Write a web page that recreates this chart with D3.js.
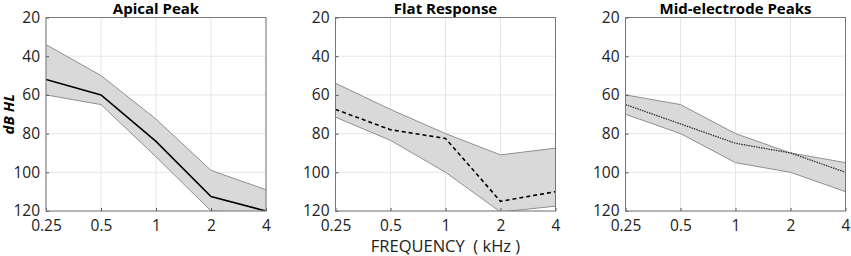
<!DOCTYPE html>
<html>
<head>
<meta charset="utf-8">
<script src="https://cdn.jsdelivr.net/npm/d3@7"></script>
<style>
  body { margin: 0; background: #fff; }
  svg text { font-family: "Open Sans", Arial, sans-serif; }
</style>
</head>
<body>
<svg id="chart"></svg>
<script>
// frequencies (kHz) and tick labels
const freqs = [0.25, 0.5, 1, 2, 4];
const freqLabels = ["0.25", "0.5", "1", "2", "4"];
const dbTicks = [20, 40, 60, 80, 100, 120];

const titles = ["Apical Peak", "Flat Response", "Mid-electrode Peaks"];

// median threshold lines (dB HL)
const apicalMid = [52, 60, 84, 112.5, 120];
const flatMid = [67.5, 78, 82.5, 115, 110];
const midElMid = [65, 75, 85, 90, 100];

// band upper edge (smaller dB)
const apicalHi = [34, 50, 72.5, 99, 109];
const flatHi = [54, 67.5, 80, 91, 87.5];
const midElHi = [60, 65, 80, 90, 95];

// band lower edge (larger dB)
const apicalLo = [60, 65, 92, 120, 121];
const flatLo = [71.5, 83.5, 100, 120.5, 117.5];
const midElLo = [70, 80, 95, 100, 110];

const lineStyles = [
    {dash: null, width: 1.6, color: "#000"},
    {dash: "4,3", width: 1.6, color: "#000"},
    {dash: "1.5,1", width: 1.3, color: "#333"}
];

const panels = [
    {mid: apicalMid, hi: apicalHi, lo: apicalLo, left: 46},
    {mid: flatMid, hi: flatHi, lo: flatLo, left: 335.5},
    {mid: midElMid, hi: midElHi, lo: midElLo, left: 625.5}
];

const width = 851, height = 256;
const plotW = 220, plotTop = 17.5, plotH = 193.5;

const svg = d3.select("#chart").attr("width", width).attr("height", height);

const y = d3.scaleLinear().domain([20, 120]).range([plotTop, plotTop + plotH]);

panels.forEach(function (p, i) {
    const x = d3.scaleLog().base(2).domain([0.25, 4]).range([0, plotW]);
    const g = svg.append("g").attr("transform", `translate(${p.left},0)`);

    const clipId = "clip" + i;
    g.append("clipPath").attr("id", clipId)
        .append("rect").attr("x", 0).attr("y", plotTop).attr("width", plotW).attr("height", plotH);

    // grid
    g.selectAll(".gx").data(freqs).enter().append("line")
        .attr("x1", d => x(d)).attr("x2", d => x(d))
        .attr("y1", plotTop).attr("y2", plotTop + plotH)
        .attr("stroke", "#e6e6e6").attr("stroke-width", 1);
    g.selectAll(".gy").data(dbTicks).enter().append("line")
        .attr("x1", 0).attr("x2", plotW)
        .attr("y1", d => y(d)).attr("y2", d => y(d))
        .attr("stroke", "#e6e6e6").attr("stroke-width", 1);

    const rows = freqs.map((f, k) => ({f: f, mid: p.mid[k], hi: p.hi[k], lo: p.lo[k]}));

    const area = d3.area().x(d => x(d.f)).y0(d => y(d.lo)).y1(d => y(d.hi));
    const body = g.append("g").attr("clip-path", `url(#${clipId})`);
    body.append("path").datum(rows)
        .attr("d", area)
        .attr("fill", "#d9d9d9")
        .attr("stroke", "none");
    body.append("path").datum(rows)
        .attr("d", d3.line().x(d => x(d.f)).y(d => y(d.hi)))
        .attr("fill", "none").attr("stroke", "#8f8f8f").attr("stroke-width", 1);
    body.append("path").datum(rows)
        .attr("d", d3.line().x(d => x(d.f)).y(d => y(d.lo)))
        .attr("fill", "none").attr("stroke", "#8f8f8f").attr("stroke-width", 1);

    const st = lineStyles[i];
    body.append("path").datum(rows)
        .attr("d", d3.line().x(d => x(d.f)).y(d => y(d.mid)))
        .attr("fill", "none")
        .attr("stroke", st.color)
        .attr("stroke-width", st.width)
        .attr("stroke-dasharray", st.dash);

    // axes
    const axX = d3.axisBottom(x).tickValues(freqs).tickFormat((d, k) => freqLabels[k])
        .tickSizeInner(-3).tickSizeOuter(0).tickPadding(9);
    const gx = g.append("g").attr("transform", `translate(0,${plotTop + plotH})`).call(axX);
    const axY = d3.axisLeft(y).tickValues(dbTicks).tickSizeInner(-3).tickSizeOuter(0).tickPadding(6);
    const gy = g.append("g").call(axY);
    [gx, gy].forEach(a => {
        a.select(".domain").remove();
        a.selectAll("line").attr("stroke", "#555");
        a.selectAll("text").attr("fill", "#222").attr("font-size", "15.5px")
            .attr("font-family", "'Open Sans', Arial, sans-serif");
    });

    // box
    g.append("rect").attr("x", 0).attr("y", plotTop).attr("width", plotW).attr("height", plotH)
        .attr("fill", "none").attr("stroke", "#777").attr("stroke-width", 1);

    // title
    g.append("text")
        .attr("x", plotW / 2).attr("y", 14)
        .attr("text-anchor", "middle")
        .attr("font-family", "Arial, 'Liberation Sans', sans-serif")
        .attr("font-weight", "bold").attr("font-size", "15px")
        .attr("fill", "#000")
        .text(titles[i]);
});

// y label
svg.append("text")
    .attr("transform", `translate(13.5,${plotTop + plotH / 2}) rotate(-90)`)
    .attr("text-anchor", "middle")
    .attr("font-family", "Arial, 'Liberation Sans', sans-serif")
    .attr("font-style", "italic").attr("font-weight", "bold")
    .attr("font-size", "15px")
    .text("dB HL");

// x label
svg.append("text")
    .attr("x", 335.5 + plotW / 2).attr("y", 252)
    .attr("text-anchor", "middle")
    .attr("font-family", "'Open Sans', Arial, sans-serif")
    .attr("font-size", "16.5px").attr("fill", "#222")
    .style("white-space", "pre")
    .text("FREQUENCY  ( kHz )");
</script>
</body>
</html>
